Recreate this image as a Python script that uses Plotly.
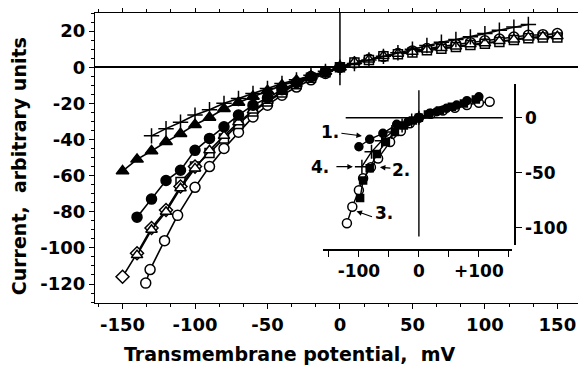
import plotly.graph_objects as go

# ---------------- main panel data ----------------
plus_x = [-130,-120,-110,-100,-90,-80,-70,-60,-50,-40,-30,-20,-10,0,10,20,30,40,50,60,70,80,90,100,110,120,130]
plus_y = [-38,-34,-30.5,-26.5,-23.5,-20,-17.3,-14.5,-11.8,-9,-7,-4.5,-2.3,0,2,4,6,8,10,12,13.8,15.3,16.8,18.6,20.5,22.2,23.6]

ftri_x = [-150,-140,-130,-120,-110,-100,-90,-80,-70,-60,-50,-40,-30,-20,-10,0]
ftri_y = [-57.5,-51,-46.4,-41.3,-36.8,-31.8,-27.8,-23,-19.5,-16.2,-13,-10,-7.3,-4.8,-2.3,0]

fcirc_x = [-140,-130,-120,-110,-100,-90,-80,-70,-60,-50,-40,-30,-20,-10,0]
fcirc_y = [-83,-73,-62.7,-57,-46,-39.4,-33,-26.5,-21,-17,-12.5,-8.5,-5.2,-2.5,0]

sq_x = [-110,-100,-90,-80,-70,-60,-50,-40,-30,-20,-10,0,10,20,30,40,50,60,70,80,90,100,110,120,130,140,150]
sq_y = [-63.5,-55,-47.5,-39.5,-31.5,-24.5,-19,-14,-9.5,-5.8,-2.8,0,2.6,4,6,7.2,8.2,9.4,10.2,11.2,12.3,13,14,15,16,16.5,16.5]

otri_x = [-140,-130,-120,-110,-100,-90,-80,-70,-60,-50,-40,-30,-20,-10,0,10,20,30,40,50,60,70,80,90,100,110,120,130,140,150]
otri_y = [-104,-90,-80,-67,-56,-46,-38,-30.5,-24,-18.5,-13.6,-9.2,-5.6,-2.6,0,2.9,4.2,6.2,7.5,8.5,9.8,10.6,11.5,12.7,13.3,14.5,15.3,16.5,17,17.1]

diam_x = [-150,-140,-130,-120,-110,-100]
diam_y = [-116,-103,-89,-79,-66,-55]

ocirc_x = [-134,-131,-121,-112,-100,-90,-80,-70,-60,-50,-40,-30,-20,-10,0,10,20,30,40,50,60,70,80,90,100,110,120,130,140,150]
ocirc_y = [-119.5,-112,-96,-82,-66.5,-55,-45,-36,-27.5,-21,-15.5,-11,-7,-3.5,0,2.4,4.4,6,7.6,9,10.3,11.5,12.6,13.6,14.6,15.6,16.7,17.7,18,18.6]

# ---------------- inset data ----------------
in_oc_x = [-120,-111,-100,-93,-80,-68,-48,-30,-15,0,20,40,60,80,100,118]
in_oc_y = [-96,-81,-66,-55,-45,-37,-22,-12,-5,0,3.5,6.5,9,11.5,13.5,14.5]

in_fs_x = [-98,-93,-82,-70,-55,-40,-25,-10,0,15,35,55,75,95]
in_fs_y = [-73,-57,-46,-33,-22,-13,-7,-2.5,0,3,6.5,10,13,16.5]

in_plus_x = [-95,-79,-62,-45,-28,-12,0]
in_plus_y = [-44.5,-31,-21,-13,-7,-2.5,0]

in_fc_x = [-100,-82,-60,-37,-18,0,18,30,46,63,80,100]
in_fc_y = [-26.4,-19.6,-14.2,-6,-3.6,0,4,5.5,8.5,11.5,15.5,19]

main_xticks = [-150,-100,-50,0,50,100,150]
main_xlabels = ["-150","-100","-50","0","50","100","150"]
main_yticks = [20,0,-20,-40,-60,-80,-100,-120]
main_ylabels = ["20","0","-20","-40","-60","-80","-100","-120"]
inset_xticks = [-150,-100,-50,0,50,100,150]
inset_xlabels = ["", "-100", "", "0", "", "+100", ""]
inset_yticks = [0,-50,-100]
inset_ylabels = ["0","-50","-100"]

BLACK = "black"
WHITE = "white"
FONT = "DejaVu Sans, Arial, sans-serif"

fig = go.Figure()

def add(x, y, symbol, fill, size, xa="x", ya="y", lw=1.6):
    fig.add_trace(go.Scatter(
        x=x, y=y, mode="lines+markers", xaxis=xa, yaxis=ya,
        line=dict(color=BLACK, width=lw),
        marker=dict(symbol=symbol, size=size, color=fill,
                    line=dict(color=BLACK, width=1.5)),
        showlegend=False, hoverinfo="skip"))

# main panel
add(ocirc_x, ocirc_y, "circle", WHITE, 10)
add(sq_x, sq_y, "square", WHITE, 9)
add(diam_x, diam_y, "diamond", WHITE, 10)
add(otri_x, otri_y, "triangle-up", WHITE, 10)
add(fcirc_x, fcirc_y, "circle", BLACK, 10)
add(ftri_x, ftri_y, "triangle-up", BLACK, 11)
add(plus_x, plus_y, "cross-thin", BLACK, 11)

# inset
add(in_oc_x, in_oc_y, "circle", WHITE, 9, "x2", "y2", 1.4)
add(in_fs_x, in_fs_y, "square", BLACK, 7, "x2", "y2", 1.4)
add(in_plus_x, in_plus_y, "cross-thin", BLACK, 10, "x2", "y2", 1.4)
add(in_fc_x, in_fc_y, "circle", BLACK, 8, "x2", "y2", 1.4)

tickfont = dict(family=FONT, size=18, color=BLACK, weight="bold")
insetfont = dict(family=FONT, size=17, color=BLACK, weight="bold")
titlefont = dict(family=FONT, size=19, color=BLACK, weight="bold")

# the page body adds an 8 px offset, so the figure is 8 px smaller than the window
fig.update_layout(
    width=578, height=361,
    margin=dict(l=87, r=4, t=5, b=66, autoexpand=False),
    paper_bgcolor=WHITE, plot_bgcolor=WHITE,
    font=dict(family=FONT, color=BLACK),
    xaxis=dict(
        range=[-169, 167], tickvals=main_xticks, ticktext=main_xlabels,
        ticks="outside", ticklen=5, tickwidth=1.2, tickcolor=BLACK,
        showline=True, linecolor=BLACK, linewidth=1.3, automargin=False,
        mirror="allticks", showgrid=False, zeroline=False, tickfont=tickfont,
        minor=dict(dtick=50/3, ticks="outside", ticklen=3, tickcolor=BLACK),
    ),
    yaxis=dict(
        range=[-130.5, 30], tickvals=main_yticks, ticktext=main_ylabels,
        ticks="outside", ticklen=5, tickwidth=1.2, tickcolor=BLACK,
        showline=True, linecolor=BLACK, linewidth=1.3, automargin=False,
        mirror="allticks", showgrid=False, zeroline=True, zerolinecolor=BLACK,
        zerolinewidth=1.6, tickfont=tickfont,
        minor=dict(dtick=5, ticks="outside", ticklen=3, tickcolor=BLACK),
    ),
    xaxis2=dict(
        domain=[0.468, 0.856], anchor="free", position=0.183, range=[-160, 155],
        tickvals=inset_xticks, ticktext=inset_xlabels, ticks="outside", ticklen=6,
        tickwidth=1.3, tickcolor=BLACK, showline=True, linecolor=BLACK, linewidth=1.6,
        showgrid=False, zeroline=False, tickfont=insetfont, automargin=False,
    ),
    yaxis2=dict(
        domain=[0.2, 0.755], anchor="free", position=0.862, side="right",
        range=[-115.7, 30.6], tickvals=inset_yticks, ticktext=inset_ylabels,
        ticks="outside", ticklen=6,
        tickwidth=1.3, tickcolor=BLACK, showline=True, linecolor=BLACK, linewidth=1.6,
        showgrid=False, zeroline=False, tickfont=insetfont, automargin=False,
    ),
)

# axis titles
fig.add_annotation(text="Transmembrane potential,&nbsp; mV", xref="paper", yref="paper",
                   x=0.40, y=-0.175, showarrow=False, font=titlefont,
                   xanchor="center", yanchor="middle")
fig.add_annotation(text="Current,&nbsp; arbitrary units", xref="paper", yref="paper",
                   x=-0.157, y=0.47, showarrow=False, font=titlefont, textangle=-90,
                   xanchor="center", yanchor="middle")

# main vertical line at 0
fig.add_shape(type="line", xref="x", yref="y", x0=0, x1=0, y0=30, y1=-10,
              line=dict(color=BLACK, width=1.5))
# inset cross lines
fig.add_shape(type="line", xref="x2", yref="y2", x0=-122, x1=140, y0=0, y1=0,
              line=dict(color=BLACK, width=1.4))
fig.add_shape(type="line", xref="x2", yref="y2", x0=0, x1=0, y0=25, y1=-108,
              line=dict(color=BLACK, width=1.4))

labfont = dict(family=FONT, size=17, color=BLACK, weight="bold")
# inset curve labels (paper coordinates so none is hidden outside the inset range)
labels = [("1.", 0.482, 0.590), ("4.", 0.463, 0.470), ("2.", 0.628, 0.458), ("3.", 0.594, 0.268)]
for t, x, y in labels:
    fig.add_annotation(text=t, x=x, y=y, xref="paper", yref="paper", showarrow=False,
                       font=labfont)
arrows = [(-95, -16.6, -22, -3), (-110, -44.5, -18, 0), (-65, -45, 12, 1), (-104, -85, 17, 6)]
for x, y, ax, ay in arrows:
    fig.add_annotation(text="", x=x, y=y, xref="x2", yref="y2", ax=ax, ay=ay,
                       showarrow=True, arrowhead=2, arrowsize=1, arrowwidth=1.1,
                       arrowcolor=BLACK, standoff=0, startstandoff=0)

fig.write_html("out.html")
